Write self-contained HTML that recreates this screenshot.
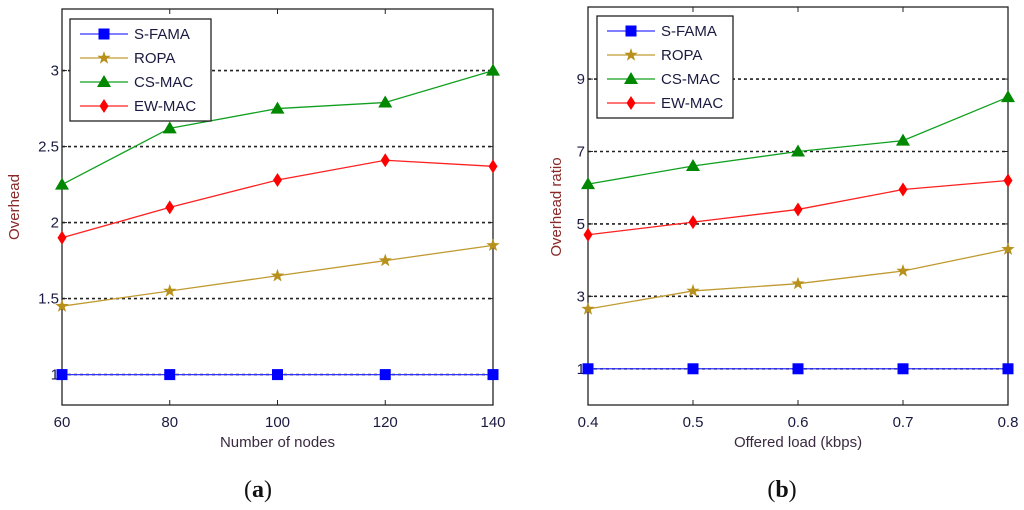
<!DOCTYPE html>
<html><head><meta charset="utf-8"><style>
html,body{margin:0;padding:0;background:#fff;}
svg{display:block;}
text{font-family:"Liberation Sans",sans-serif;}
text.cap{font-family:"Liberation Serif",serif;}
</style></head><body>
<svg id="s" width="1024" height="510" xmlns="http://www.w3.org/2000/svg"></svg>
<script>
const seriesNames = ["S-FAMA","ROPA","CS-MAC","EW-MAC"];
const xA = [60,80,100,120,140];
const sfamaA = [1,1,1,1,1];
const ropaA = [1.45,1.55,1.65,1.75,1.85];
const csmacA = [2.25,2.62,2.75,2.79,3.0];
const ewmacA = [1.9,2.1,2.28,2.41,2.37];
const yTicksA = [1,1.5,2,2.5,3];
const xB = [0.4,0.5,0.6,0.7,0.8];
const sfamaB = [1,1,1,1,1];
const ropaB = [2.65,3.15,3.35,3.7,4.3];
const csmacB = [6.1,6.6,7.0,7.3,8.5];
const ewmacB = [4.7,5.05,5.4,5.95,6.2];
const yTicksB = [1,3,5,7,9];

const NS="http://www.w3.org/2000/svg";
const svg=document.getElementById('s');
function el(tag,attrs,parent){const e=document.createElementNS(NS,tag);for(const k in attrs)e.setAttribute(k,attrs[k]);(parent||svg).appendChild(e);return e;}
const colors=["#0000ff","#b8901c","#008800","#ff0000"];
const lineColors=["#3333ff","#c09a30","#10a020","#ff2020"];

function marker(g,type,x,y,c){
  let m;
  if(type===0){m=el('rect',{x:x-5.5,y:y-5.5,width:11,height:11,fill:c},g);}
  else if(type===1){
    let pts=[];for(let i=0;i<10;i++){const r=i%2?2.8:7;const a=-Math.PI/2+i*Math.PI/5;pts.push((x+r*Math.cos(a)).toFixed(1)+','+(y+r*Math.sin(a)).toFixed(1));}
    m=el('polygon',{points:pts.join(' '),fill:c},g);}
  else if(type===2){m=el('polygon',{points:`${x},${y-7} ${x+7},${y+5} ${x-7},${y+5}`,fill:c},g);}
  else {m=el('polygon',{points:`${x},${y-7} ${x+4.5},${y} ${x},${y+7} ${x-4.5},${y}`,fill:c},g);}
  return m;
}

function chart(o){
  const g=el('g',{});
  
  
  const X=v=>o.x0+(v-o.xs[0])/(o.xs[o.xs.length-1]-o.xs[0])*(o.x1-o.x0);
  const Y=v=>o.y1-(v-o.ymin)/(o.ymax-o.ymin)*(o.y1-o.y0);
  o.yt.forEach(t=>{
    const l=el('line',{x1:o.x0,x2:o.x1,y1:Y(t),y2:Y(t),stroke:'#222','stroke-width':1.6,'stroke-dasharray':'3,3'},g);
    
    const tx=el('text',{x:o.x0-3,y:Y(t)+5,'text-anchor':'end','font-size':15,fill:'#1a1a40'},g);
    tx.textContent=t;
    el('line',{x1:o.x0,x2:o.x0+5,y1:Y(t),y2:Y(t),stroke:'#222'},g);
    el('line',{x1:o.x1,x2:o.x1-5,y1:Y(t),y2:Y(t),stroke:'#222'},g);
  });
  o.xs.forEach(v=>{
    el('line',{x1:X(v),x2:X(v),y1:o.y1,y2:o.y1-5,stroke:'#222'},g);
    el('line',{x1:X(v),x2:X(v),y1:o.y0,y2:o.y0+5,stroke:'#222'},g);
    const tx=el('text',{x:X(v),y:o.y1+22,'text-anchor':'middle','font-size':15,fill:'#1a1a40'},g);
    tx.textContent=v;
  });
  const box=el('rect',{x:o.x0,y:o.y0,width:o.x1-o.x0,height:o.y1-o.y0,fill:'none',stroke:'#222','stroke-width':1.3},g);
  
  o.series.forEach((s,i)=>{
    const pl=el('polyline',{points:s.map((v,j)=>X(o.xs[j])+','+Y(v)).join(' '),fill:'none',stroke:lineColors[i],'stroke-width':1.3},g);
    
    s.forEach((v,j)=>{const m=marker(g,i,X(o.xs[j]),Y(v),colors[i]);
      });
  });
  const lg=el('g',{},g);
  
  el('rect',{x:o.lx,y:o.ly,width:o.lw,height:102,fill:'#fff',stroke:'#222','stroke-width':1.3},lg);
  seriesNames.forEach((n,i)=>{
    const yy=o.ly+15+i*24;
    el('line',{x1:o.lx+10,x2:o.lx+58,y1:yy,y2:yy,stroke:lineColors[i],'stroke-width':1.3},lg);
    marker(lg,i,o.lx+34,yy,colors[i]);
    const t=el('text',{x:o.lx+64,y:yy+5,'font-size':15,fill:'#1a1a40'},lg);
    t.textContent=n;
  });
  const xl=el('text',{x:(o.x0+o.x1)/2,y:447,'text-anchor':'middle','font-size':15,fill:'#3a2a40'},g);
  xl.textContent=o.xlabel;
  const yl=el('text',{x:0,y:0,'text-anchor':'middle','font-size':15,fill:'#8b2a2a',transform:`translate(${o.ylx},207) rotate(-90)`},g);
  yl.textContent=o.ylabel;
  const cap=el('text',{x:o.capx,y:497,'text-anchor':'middle','font-size':24,fill:'#111','class':'cap'},g);
  cap.innerHTML='(<tspan font-weight="bold">'+o.cap+'</tspan>)';
}
chart({name:'chart-a',x0:62,x1:493,y0:9,y1:405,xs:xA,ymin:0.8,ymax:3.405,yt:yTicksA,series:[sfamaA,ropaA,csmacA,ewmacA],lx:70,ly:19,lw:141,xlabel:'Number of nodes',ylabel:'Overhead',ylx:19,capx:258,cap:'a'});
chart({name:'chart-b',x0:588,x1:1008,y0:7,y1:405,xs:xB,ymin:0,ymax:10.99,yt:yTicksB,series:[sfamaB,ropaB,csmacB,ewmacB],lx:597,ly:16,lw:136,xlabel:'Offered load (kbps)',ylabel:'Overhead ratio',ylx:561,capx:782,cap:'b'});
</script>
</body></html>
